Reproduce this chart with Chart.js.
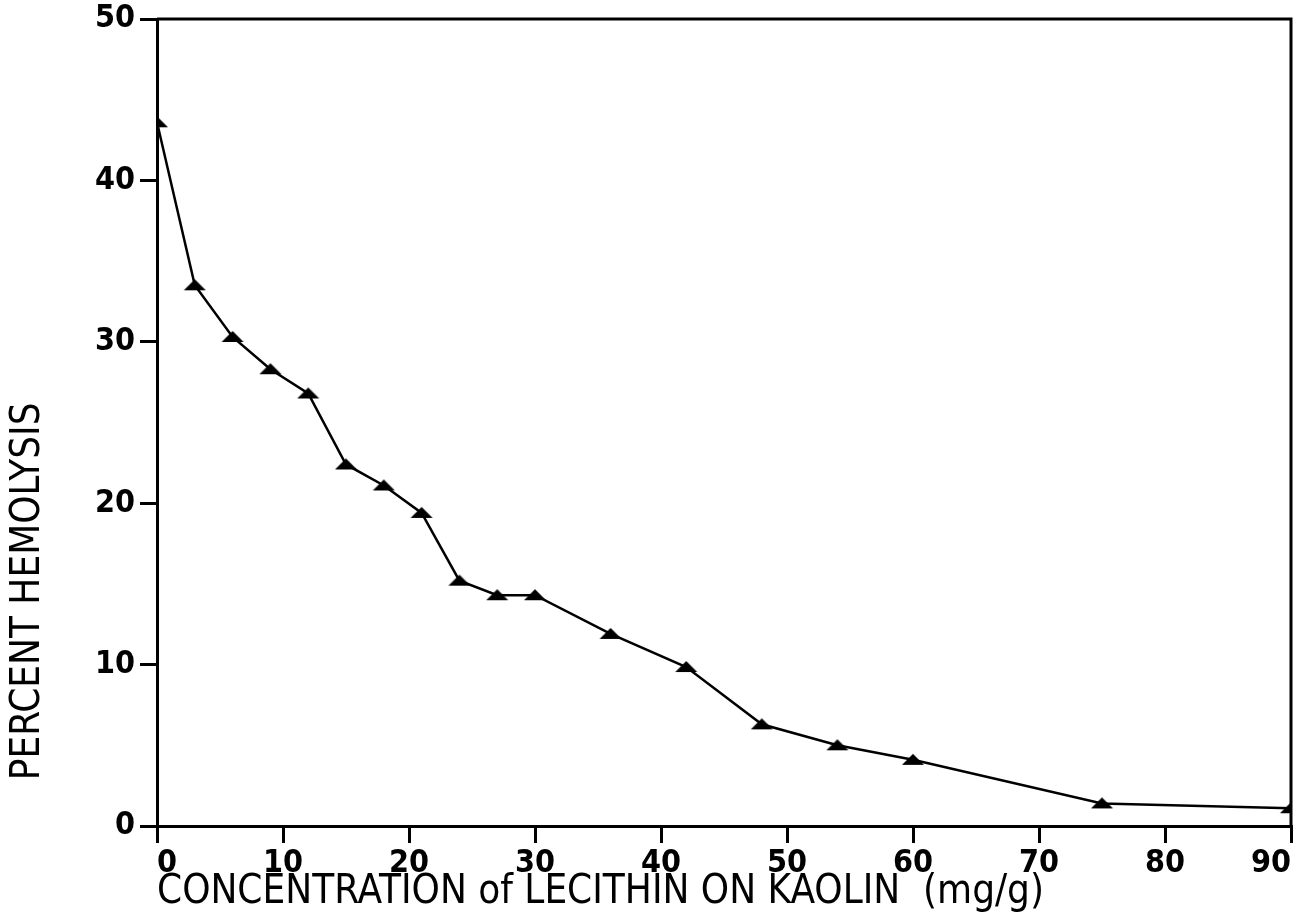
<!DOCTYPE html>
<html>
<head>
<meta charset="utf-8">
<script src="https://cdn.jsdelivr.net/npm/chart.js@4/dist/chart.umd.min.js"></script>
<style>
  html, body { margin: 0; padding: 0; background: #fff; }
  #wrap { width: 1308px; height: 921px; }
</style>
</head>
<body>
<div id="wrap"><canvas id="chart"></canvas></div>
<script>
let concentration = [0, 3, 6, 9, 12, 15, 18, 21, 24, 27, 30, 36, 42, 48, 54, 60, 75, 90];
let hemolysis = [43.6, 33.5, 30.3, 28.3, 26.8, 22.4, 21.1, 19.4, 15.2, 14.3, 14.3, 11.9, 9.85, 6.3, 5.0, 4.1, 1.4, 1.1];

let xTitle = "CONCENTRATION of LECITHIN ON KAOLIN  (mg/g)";
let yTitle = "    PERCENT HEMOLYSIS";

let ink = "#000";
let fontName = "'Liberation Sans Narrow', 'DejaVu Sans Condensed', sans-serif";
let tickFont = { family: fontName, size: 32, weight: "bold" };
let titleFont = { family: fontName, size: 40 };

let points = concentration.map((c, i) => ({ x: c, y: hemolysis[i] }));

// flat triangle marker like the plotter's
let marker = document.createElement("canvas");
marker.width = 24;
marker.height = 14;
let mctx = marker.getContext("2d");
mctx.fillStyle = ink;
mctx.beginPath();
mctx.moveTo(12, 1);
mctx.lineTo(23, 12);
mctx.lineTo(1, 12);
mctx.closePath();
mctx.fill();

// top and right sides of the frame
let frame = {
    id: "frame",
    afterDraw(chart) {
        let a = chart.chartArea;
        let ctx = chart.ctx;
        ctx.save();
        ctx.strokeStyle = ink;
        ctx.lineWidth = 3;
        ctx.beginPath();
        ctx.moveTo(a.left, a.top);
        ctx.lineTo(a.right, a.top);
        ctx.lineTo(a.right, a.bottom);
        ctx.stroke();
        ctx.restore();
    }
};

new Chart("chart", {
    type: "line",
    data: {
        datasets: [{
            data: points,
            borderColor: ink,
            backgroundColor: ink,
            borderWidth: 2.5,
            pointStyle: marker,
            fill: false,
            tension: 0
        }]
    },
    plugins: [frame],
    options: {
        responsive: true,
        maintainAspectRatio: false,
        animation: false,
        layout: { padding: { top: 19, right: 17, left: 0, bottom: 0 } },
        plugins: {
            legend: { display: false },
            tooltip: { enabled: false }
        },
        scales: {
            x: {
                type: "linear",
                min: 0,
                max: 90,
                afterFit(scale) {
                    scale.height = 95;
                    scale.paddingLeft = 0;
                    scale.paddingRight = 0;
                },
                border: { display: true, color: ink, width: 3 },
                grid: { display: true, drawOnChartArea: false, drawTicks: true, tickLength: 17, color: ink, lineWidth: 3 },
                ticks: { stepSize: 10, color: ink, font: tickFont, padding: 1, maxRotation: 0, align: "inner" },
                title: { display: true, text: xTitle, color: ink, font: titleFont, align: "start", padding: { top: 0, bottom: 4 } }
            },
            y: {
                min: 0,
                max: 50,
                afterFit(scale) {
                    scale.width = 157;
                    scale.paddingTop = 0;
                    scale.paddingBottom = 0;
                },
                border: { display: true, color: ink, width: 3 },
                grid: { display: true, drawOnChartArea: false, drawTicks: true, tickLength: 17, color: ink, lineWidth: 3 },
                ticks: { stepSize: 10, color: ink, font: tickFont, padding: 5 },
                title: { display: true, text: yTitle, color: ink, font: titleFont, align: "start", padding: { top: 5, bottom: 0 } }
            }
        }
    }
});
</script>
</body>
</html>
